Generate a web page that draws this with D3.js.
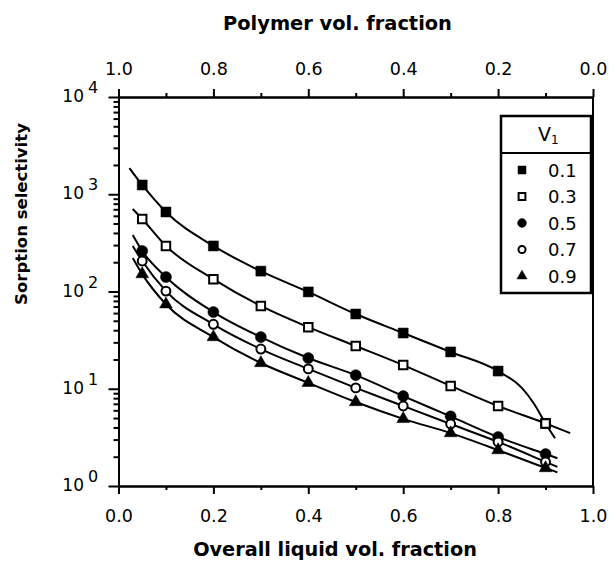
<!DOCTYPE html>
<html>
<head>
<meta charset="utf-8">
<script src="https://cdn.jsdelivr.net/npm/d3@7"></script>
<style>
  body { margin: 0; background: #fff; }
  svg { display: block; }
  text { font-family: "DejaVu Sans", sans-serif; fill: #000; }
</style>
</head>
<body>
<svg id="chart" width="616" height="563"></svg>
<script>
// liquid volume fraction of each measured point
var liquidFrac = [0.05, 0.1, 0.2, 0.3, 0.4, 0.5, 0.6, 0.7, 0.8, 0.9];

// sorption selectivity, one array per v1
var sel01 = [1245, 657, 294, 162, 99, 58.7, 37.4, 23.9, 15.2, 4.4];
var sel03 = [556, 294, 134, 71, 43, 27.5, 17.5, 10.7, 6.65, 4.4];
var sel05 = [261, 141, 61.5, 34, 20.7, 13.8, 8.4, 5.2, 3.19, 2.13];
var sel07 = [206, 101, 46, 25.6, 16, 10.2, 6.65, 4.34, 2.84, 1.77];
var sel09 = [151, 74, 34, 18.4, 11.5, 7.3, 4.9, 3.5, 2.34, 1.53];

// fitted curves (drawn as lines), x and y
var fitX01 = [0.023, 0.05, 0.1, 0.2, 0.3, 0.4, 0.5, 0.6, 0.7, 0.8, 0.85, 0.875, 0.9, 0.92];
var fitY01 = [1860, 1245, 657, 294, 162, 99, 58.7, 37.4, 23.9, 15.2, 10.2, 7.1, 4.4, 3.1];
var fitX03 = [0.03, 0.05, 0.1, 0.2, 0.3, 0.4, 0.5, 0.6, 0.7, 0.8, 0.9, 0.952];
var fitY03 = [705, 556, 294, 134, 71, 43, 27.5, 17.5, 10.7, 6.65, 4.4, 3.5];
var fitX05 = [0.03, 0.05, 0.1, 0.2, 0.3, 0.4, 0.5, 0.6, 0.7, 0.8, 0.9, 0.925];
var fitY05 = [381, 261, 141, 61.5, 34, 20.7, 13.8, 8.4, 5.2, 3.19, 2.13, 1.93];
var fitX07 = [0.03, 0.05, 0.1, 0.2, 0.3, 0.4, 0.5, 0.6, 0.7, 0.8, 0.9, 0.925];
var fitY07 = [294, 206, 101, 46, 25.6, 16, 10.2, 6.65, 4.34, 2.84, 1.77, 1.57];
var fitX09 = [0.03, 0.05, 0.1, 0.2, 0.3, 0.4, 0.5, 0.6, 0.7, 0.8, 0.9, 0.925];
var fitY09 = [221, 151, 74, 34, 18.4, 11.5, 7.3, 4.9, 3.5, 2.34, 1.53, 1.38];

var seriesNames = ["0.1", "0.3", "0.5", "0.7", "0.9"];
var xMajor = [0, 0.2, 0.4, 0.6, 0.8, 1.0];
var xMinor = [0.1, 0.3, 0.5, 0.7, 0.9];
var yDecades = [1, 10, 100, 1000, 10000];

var svg = d3.select("#chart");

var x = d3.scaleLinear().domain([0, 1]).range([118.5, 593]);
var xTop = d3.scaleLinear().domain([1, 0]).range([118.5, 593]);
var y = d3.scaleLog().domain([1, 10000]).range([486, 97]);

var series = [
    { name: seriesNames[0], vals: sel01, fx: fitX01, fy: fitY01, shape: d3.symbolSquare, filled: true, size: 100 },
    { name: seriesNames[1], vals: sel03, fx: fitX03, fy: fitY03, shape: d3.symbolSquare, filled: false, size: 72 },
    { name: seriesNames[2], vals: sel05, fx: fitX05, fy: fitY05, shape: d3.symbolCircle, filled: true, size: 95 },
    { name: seriesNames[3], vals: sel07, fx: fitX07, fy: fitY07, shape: d3.symbolCircle, filled: false, size: 62 },
    { name: seriesNames[4], vals: sel09, fx: fitX09, fy: fitY09, shape: d3.symbolTriangle, filled: true, size: 70 }
];

// ---- axes ----
function styleAxis(g) {
    g.select(".domain").attr("stroke", "#000").attr("stroke-width", 2);
    g.selectAll(".tick line").attr("stroke", "#000").attr("stroke-width", 2);
    g.selectAll(".tick text").attr("font-size", 17.5).attr("font-family", "DejaVu Sans, sans-serif");
}

svg.append("g").attr("transform", "translate(0,486)")
    .call(d3.axisBottom(x).tickValues(xMajor).tickSize(8).tickSizeOuter(0).tickPadding(16).tickFormat(d3.format(".1f")))
    .call(styleAxis);
svg.append("g").attr("transform", "translate(0,486)")
    .call(d3.axisBottom(x).tickValues(xMinor).tickSize(4).tickSizeOuter(0).tickFormat(""))
    .call(styleAxis);

svg.append("g").attr("transform", "translate(0,97)")
    .call(d3.axisTop(xTop).tickValues(xMajor).tickSize(8).tickSizeOuter(0).tickPadding(14).tickFormat(d3.format(".1f")))
    .call(styleAxis);
svg.append("g").attr("transform", "translate(0,97)")
    .call(d3.axisTop(xTop).tickValues(xMinor).tickSize(4).tickSizeOuter(0).tickFormat(""))
    .call(styleAxis);

// log minor ticks on the left
var yMinor = [];
yDecades.slice(0, -1).forEach(function (d) {
    for (var k = 2; k <= 9; k++) yMinor.push(d * k);
});
svg.append("g").attr("transform", "translate(118.5,0)")
    .call(d3.axisLeft(y).tickValues(yDecades).tickSize(10).tickSizeOuter(0).tickFormat(""))
    .call(styleAxis);
svg.append("g").attr("transform", "translate(118.5,0)")
    .call(d3.axisLeft(y).tickValues(yMinor).tickSize(5).tickSizeOuter(0).tickFormat(""))
    .call(styleAxis);

// right frame line
svg.append("line")
    .attr("x1", x(1)).attr("x2", x(1))
    .attr("y1", y(10000)).attr("y2", y(1))
    .attr("stroke", "#000").attr("stroke-width", 2);

// decade labels, 10 with superscript
var yLab = svg.append("g").selectAll("g").data(yDecades).enter().append("g");
yLab.append("text")
    .attr("x", 84).attr("y", function (d) { return y(d) + 5; })
    .attr("text-anchor", "end").attr("font-size", 17)
    .text("10");
yLab.append("text")
    .attr("x", 88).attr("y", function (d) { return y(d) - 4; })
    .attr("font-size", 16)
    .text(function (d) { return Math.round(Math.log10(d)); });

// ---- titles, fitted to the measured widths ----
function fitText(t, w) {
    var len = t.node().getComputedTextLength();
    var fs = parseFloat(t.attr("font-size"));
    t.attr("font-size", fs * w / len);
}
var tb = svg.append("text").attr("x", 335).attr("y", 556)
    .attr("text-anchor", "middle").attr("font-weight", "bold").attr("font-size", 18)
    .text("Overall liquid vol. fraction");
fitText(tb, 284);
var tt = svg.append("text").attr("x", 337.5).attr("y", 30)
    .attr("text-anchor", "middle").attr("font-weight", "bold").attr("font-size", 18)
    .text("Polymer vol. fraction");
fitText(tt, 229);
var tl = svg.append("text").attr("transform", "translate(27,214) rotate(-90)")
    .attr("text-anchor", "middle").attr("font-weight", "bold").attr("font-size", 18)
    .text("Sorption selectivity");
fitText(tl, 182);

// ---- curves ----
var line = d3.line()
    .x(function (d) { return x(d[0]); })
    .y(function (d) { return y(d[1]); })
    .curve(d3.curveMonotoneX);

svg.append("g").selectAll("path").data(series).enter().append("path")
    .attr("d", function (s) { return line(d3.zip(s.fx, s.fy)); })
    .attr("fill", "none").attr("stroke", "#000").attr("stroke-width", 2);

// ---- markers ----
function drawSymbol(sel, s, scale) {
    sel.attr("d", d3.symbol().type(s.shape).size(s.size * scale * scale))
        .attr("fill", s.filled ? "#000" : "#fff")
        .attr("stroke", "#000")
        .attr("stroke-width", s.filled ? 0.5 : 2);
}

series.forEach(function (s) {
    svg.append("g").selectAll("path").data(d3.zip(liquidFrac, s.vals)).enter().append("path")
        .attr("transform", function (d) { return "translate(" + x(d[0]) + "," + y(d[1]) + ")"; })
        .call(drawSymbol, s, 1);
});

// ---- legend ----
var lg = svg.append("g");
lg.append("rect").attr("x", 501).attr("y", 116).attr("width", 90).attr("height", 177)
    .attr("fill", "#fff").attr("stroke", "#000").attr("stroke-width", 2.5);
lg.append("line").attr("x1", 501).attr("x2", 591).attr("y1", 153).attr("y2", 153)
    .attr("stroke", "#000").attr("stroke-width", 2);
var hdr = lg.append("text").attr("x", 538).attr("y", 141).attr("font-size", 19);
hdr.append("tspan").text("V");
hdr.append("tspan").attr("dy", 3).attr("font-size", 12).text("1");

var rows = lg.selectAll("g.row").data(series).enter().append("g")
    .attr("transform", function (s, i) { return "translate(0," + (170 + i * 26.5) + ")"; });
rows.each(function (s) {
    d3.select(this).append("path").attr("transform", "translate(522,0)").call(drawSymbol, s, 0.8);
});
rows.append("text").attr("x", 548).attr("y", 6.5).attr("font-size", 18)
    .text(function (s) { return s.name; });
</script>
</body>
</html>
